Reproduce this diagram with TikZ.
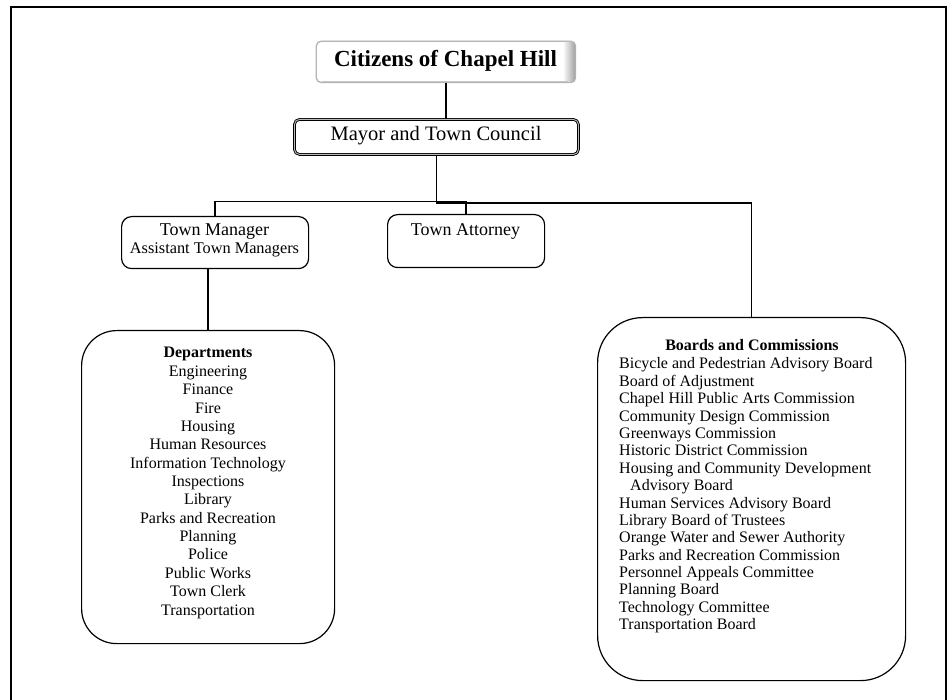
\documentclass[tikz,border=0pt]{standalone}
\usepackage{fontspec}
\setmainfont{Liberation Serif}
\begin{document}
\begin{tikzpicture}[x=1pt,y=-1pt,
  conn/.style={line width=1.5pt},
  box/.style={draw, line width=1.2pt, fill=white},
  txt/.style={inner sep=0pt, anchor=base},
  ltxt/.style={inner sep=0pt, anchor=base west},
  listfont/.style={font=\fontsize{16}{18}\selectfont}
]
\useasboundingbox (0,0) rectangle (948,700);
% outer frame
\draw[line width=2pt] (11,712) -- (11,7) -- (946,7) -- (946,712);

% Citizens box
\node[draw=gray!55, line width=0.8pt, fill=white, rounded corners=5pt,
      minimum width=259pt, minimum height=41pt, anchor=north west] (cit) at (316,41) {};
\shade[left color=white, right color=gray!75, rounded corners=4pt]
  ([xshift=-13pt,yshift=-0.6pt]cit.north east) rectangle ([xshift=-0.4pt,yshift=0.6pt]cit.south east);
\draw[gray!45, line width=1pt] ([xshift=6pt,yshift=1pt]cit.south west) -- ([xshift=-8pt,yshift=1pt]cit.south east);
\draw[gray!60, line width=0.8pt, rounded corners=5pt] (cit.north west) rectangle (cit.south east);
\node[txt, font=\bfseries\fontsize{23}{26}\selectfont] (cittxt) at (445.5,67) {Citizens of Chapel Hill};

% Mayor box
\node[draw=black, line width=0.9pt, double=gray!55, double distance=0.9pt, fill=white,
      rounded corners=5pt, minimum width=284pt, minimum height=35pt, anchor=north west] (mayor) at (294,119) {};
\node[txt, font=\fontsize{20.5}{23}\selectfont] (mayortxt) at (436,141) {Mayor and Town Council};

% Town Manager box
\node[box, rounded corners=10pt, minimum width=187pt, minimum height=52pt, anchor=north west] (tm) at (121,216) {};
\node[txt, font=\fontsize{18}{20}\selectfont] (tmtxt1) at (214.5,236) {Town Manager};
\node[txt, font=\fontsize{16.3}{18}\selectfont] (tmtxt2) at (214.5,254) {Assistant Town Managers};

% Town Attorney box
\node[box, rounded corners=10pt, minimum width=157pt, minimum height=53pt, anchor=north west] (ta) at (387,214) {};
\node[txt, font=\fontsize{18}{20}\selectfont] (tatxt) at (465.5,236) {Town Attorney};

% Departments box
\node[box, rounded corners=35pt, minimum width=253pt, minimum height=313pt, anchor=north west] (dep) at (81,330) {};
\node[txt, font=\bfseries\fontsize{16}{18}\selectfont] (deptitle) at (208,358) {Departments};
\foreach \t [count=\i] in {Engineering, Finance, Fire, Housing, Human Resources,
   Information Technology, Inspections, Library, Parks and Recreation, Planning,
   Police, Public Works, Town Clerk, Transportation}
  \node[txt, listfont] (d\i) at (208,{358+18.36*\i}) {\t};

% Boards box
\node[box, rounded corners=45pt, minimum width=308pt, minimum height=363pt, anchor=north west] (boards) at (597,317) {};
\node[txt, font=\bfseries\fontsize{16}{18}\selectfont] (btitle) at (752,351) {Boards and Commissions};
\foreach \t/\xx [count=\i] in {Bicycle and Pedestrian Advisory Board/619, Board of Adjustment/619,
   Chapel Hill Public Arts Commission/619, Community Design Commission/619,
   Greenways Commission/619, Historic District Commission/619,
   Housing and Community Development/619, Advisory Board/630,
   Human Services Advisory Board/619, Library Board of Trustees/619,
   Orange Water and Sewer Authority/619, Parks and Recreation Commission/619,
   Personnel Appeals Committee/619, Planning Board/619, Technology Committee/619,
   Transportation Board/619}
  \node[ltxt, listfont] (b\i) at (\xx,{369+17.375*(\i-1)}) {\t};

% connectors
\coordinate (jl) at (0,201.5);
\coordinate (jr) at (0,203);
\draw[line width=1.8pt] (cit.south) -- (cit.south |- mayor.north);
\draw[conn] (mayor.south) -- (mayor.south |- jr);
\draw[conn] (tm.north) |- (ta.north |- jl) -- (ta.north);
\draw[conn] (mayor.south |- jr) -| (boards.north);
\draw[line width=1.8pt] (dep.north) -- (dep.north |- tm.south);
\end{tikzpicture}
\end{document}
